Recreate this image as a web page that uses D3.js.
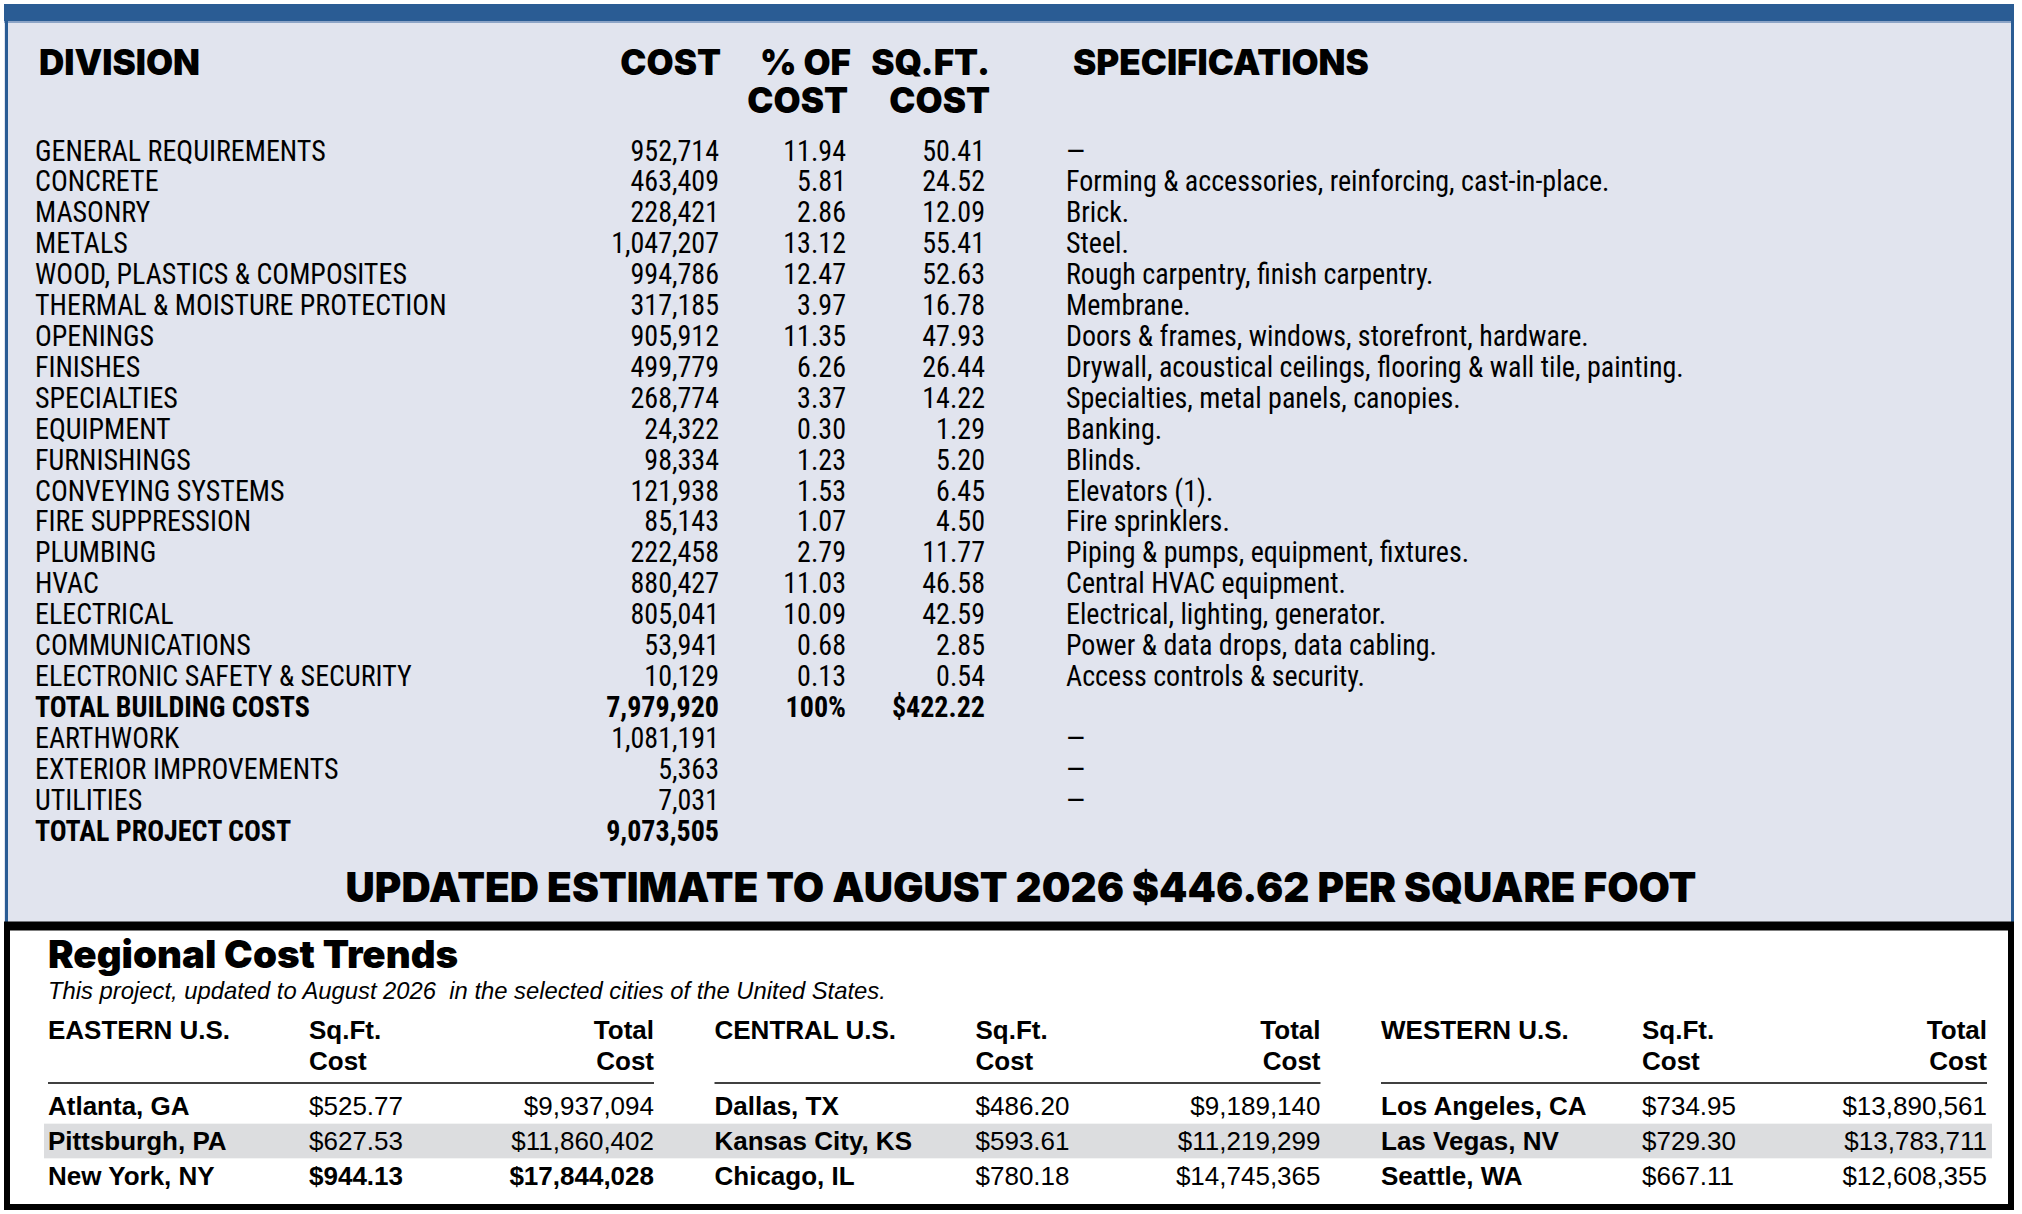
<!DOCTYPE html>
<html>
<head>
<meta charset="utf-8">
<script src="https://cdn.jsdelivr.net/npm/d3@7"></script>
<style>
  html, body { margin: 0; padding: 0; background: #ffffff; }
  svg { display: block; }
  .narrow { font-family: "Liberation Sans Narrow", "Roboto Condensed", "DejaVu Sans Condensed", sans-serif; }
  .heavy { font-family: Inter, "Liberation Sans", sans-serif; font-weight: 900; }
  .sans { font-family: "Liberation Sans", Arial, sans-serif; }
</style>
</head>
<body>
<div id="chart"></div>
<script>
// cost breakdown table
const divisions = [
  "GENERAL REQUIREMENTS", "CONCRETE", "MASONRY", "METALS", "WOOD, PLASTICS & COMPOSITES",
  "THERMAL & MOISTURE PROTECTION", "OPENINGS", "FINISHES", "SPECIALTIES", "EQUIPMENT",
  "FURNISHINGS", "CONVEYING SYSTEMS", "FIRE SUPPRESSION", "PLUMBING", "HVAC", "ELECTRICAL",
  "COMMUNICATIONS", "ELECTRONIC SAFETY & SECURITY", "TOTAL BUILDING COSTS", "EARTHWORK",
  "EXTERIOR IMPROVEMENTS", "UTILITIES", "TOTAL PROJECT COST"
];
const costs = [
  952714, 463409, 228421, 1047207, 994786, 317185, 905912, 499779, 268774, 24322,
  98334, 121938, 85143, 222458, 880427, 805041, 53941, 10129, 7979920, 1081191,
  5363, 7031, 9073505
];
const pctOfCost = [
  "11.94", "5.81", "2.86", "13.12", "12.47", "3.97", "11.35", "6.26", "3.37", "0.30",
  "1.23", "1.53", "1.07", "2.79", "11.03", "10.09", "0.68", "0.13", "100%", "", "", "", ""
];
const sqftCost = [
  "50.41", "24.52", "12.09", "55.41", "52.63", "16.78", "47.93", "26.44", "14.22", "1.29",
  "5.20", "6.45", "4.50", "11.77", "46.58", "42.59", "2.85", "0.54", "$422.22", "", "", "", ""
];
const specs = [
  "—", "Forming & accessories, reinforcing, cast-in-place.", "Brick.", "Steel.",
  "Rough carpentry, finish carpentry.", "Membrane.", "Doors & frames, windows, storefront, hardware.",
  "Drywall, acoustical ceilings, flooring & wall tile, painting.", "Specialties, metal panels, canopies.",
  "Banking.", "Blinds.", "Elevators (1).", "Fire sprinklers.", "Piping & pumps, equipment, fixtures.",
  "Central HVAC equipment.", "Electrical, lighting, generator.", "Power & data drops, data cabling.",
  "Access controls & security.", "", "—", "—", "—", ""
];
const totalRows = ["TOTAL BUILDING COSTS", "TOTAL PROJECT COST"];
const updatedLine = "UPDATED ESTIMATE TO AUGUST 2026 $446.62 PER SQUARE FOOT";

// regional cost trends
const regions = ["EASTERN U.S.", "CENTRAL U.S.", "WESTERN U.S."];
const cities = [
  ["Atlanta, GA", "Pittsburgh, PA", "New York, NY"],
  ["Dallas, TX", "Kansas City, KS", "Chicago, IL"],
  ["Los Angeles, CA", "Las Vegas, NV", "Seattle, WA"]
];
const citySqft = [
  [525.77, 627.53, 944.13],
  [486.20, 593.61, 780.18],
  [734.95, 729.30, 667.11]
];
const cityTotal = [
  [9937094, 11860402, 17844028],
  [9189140, 11219299, 14745365],
  [13890561, 13783711, 12608355]
];
const highlighted = ["New York, NY"];

const W = 2022, H = 1214;
const blue = "#2a5c94", panel = "#e1e4ee";

const svg = d3.select("#chart").append("svg")
  .attr("width", W)
  .attr("height", H)
  .attr("viewBox", `0 0 ${W} ${H}`);

// frame + panels
svg.append("rect").attr("x", 4).attr("y", 4).attr("width", 2010).attr("height", 922)
  .attr("fill", panel);
svg.append("rect").attr("x", 4).attr("y", 4).attr("width", 2010).attr("height", 17)
  .attr("fill", blue);
svg.append("line").attr("x1", 4).attr("x2", 2014).attr("y1", 22).attr("y2", 22)
  .attr("stroke", "#6f8fb8").attr("stroke-width", 1.5);
svg.append("line").attr("x1", 6.5).attr("x2", 6.5).attr("y1", 4).attr("y2", 926)
  .attr("stroke", blue).attr("stroke-width", 3);
svg.append("line").attr("x1", 2012.5).attr("x2", 2012.5).attr("y1", 4).attr("y2", 926)
  .attr("stroke", blue).attr("stroke-width", 3);

// scales for the top table
const rowY = d3.scalePoint().domain(d3.range(divisions.length)).range([150, 830]);
const col = { label: 35, cost: 719, pct: 846, sqft: 985, spec: 1066 };
const fmt = d3.format(",");
const squeeze = 0.95; // condensed face look

const table = svg.append("g");

// column headers
const headers = [
  { t: "DIVISION", x: 39, y: 75, a: "start" },
  { t: "COST", x: 721, y: 75, a: "end" },
  { t: "% OF", x: 851, y: 75, a: "end" },
  { t: "COST", x: 848, y: 113, a: "end" },
  { t: "SQ.FT.", x: 990, y: 75, a: "end" },
  { t: "COST", x: 990, y: 113, a: "end" },
  { t: "SPECIFICATIONS", x: 1073, y: 75, a: "start" }
];
table.selectAll("text.hdr").data(headers).enter().append("text")
  .attr("class", "hdr heavy")
  .attr("x", d => d.x).attr("y", d => d.y)
  .attr("text-anchor", d => d.a)
  .attr("font-size", 35)
  .attr("fill", "#000")
  .text(d => d.t);

const rows = table.selectAll("g.row").data(divisions).enter().append("g")
  .attr("class", "row narrow")
  .attr("transform", (d, i) => `translate(0,${rowY(i) + 10.5})`)
  .attr("font-size", 29.5)
  .attr("font-weight", d => totalRows.includes(d) ? "bold" : "normal")
  .attr("fill", "#000");

function cell(sel, x, anchor, fn, weight) {
  const t = sel.append("text")
    .attr("transform", `translate(${x},0) scale(${squeeze},1)`)
    .attr("text-anchor", anchor)
    .text(fn);
  if (weight) t.attr("font-weight", weight);
  return t;
}
cell(rows, col.label, "start", d => d);
cell(rows, col.cost, "end", (d, i) => fmt(costs[i]));
cell(rows, col.pct, "end", (d, i) => pctOfCost[i]);
cell(rows, col.sqft, "end", (d, i) => sqftCost[i]);
cell(rows, col.spec, "start", (d, i) => specs[i], "normal");

table.append("text")
  .attr("class", "heavy")
  .attr("x", 1021).attr("y", 902)
  .attr("text-anchor", "middle")
  .attr("font-size", 40.5)
  .attr("fill", "#000")
  .text(updatedLine);

// regional box
const box = svg.append("g");
box.append("rect").attr("x", 7).attr("y", 926).attr("width", 2004).attr("height", 281)
  .attr("fill", "#fff").attr("stroke", "#000").attr("stroke-width", 6);
box.append("line").attr("x1", 4).attr("x2", 2014).attr("y1", 926).attr("y2", 926)
  .attr("stroke", "#000").attr("stroke-width", 9);

box.append("text").attr("class", "heavy").attr("x", 48).attr("y", 968)
  .attr("font-size", 38.5).attr("font-weight", 800).text("Regional Cost Trends");
box.append("text").attr("class", "sans").attr("x", 48).attr("y", 999)
  .attr("font-size", 23.8).attr("font-style", "italic")
  .attr("xml:space", "preserve")
  .text("This project, updated to August 2026  in the selected cities of the United States.");

const regionX = d3.scalePoint().domain(regions).range([48, 1381]);
const cityRow = d3.scaleBand().domain([0, 1, 2]).range([1089, 1193]);
const money = d3.format("$,.2f");
const moneyInt = d3.format("$,");

// alternate row shading across all regions
box.append("rect")
  .attr("x", 44).attr("width", 1948)
  .attr("y", cityRow(1)).attr("height", cityRow.bandwidth())
  .attr("fill", "#dcdddf");

const groups = box.selectAll("g.region").data(regions).enter().append("g")
  .attr("class", "region sans")
  .attr("transform", d => `translate(${regionX(d)},0)`)
  .attr("font-size", 26);

groups.append("text").attr("y", 1039).attr("font-weight", "bold").text(d => d);
groups.append("text").attr("x", 261).attr("y", 1039).attr("font-weight", "bold").text("Sq.Ft.");
groups.append("text").attr("x", 261).attr("y", 1070).attr("font-weight", "bold").text("Cost");
groups.append("text").attr("x", 606).attr("y", 1039).attr("font-weight", "bold").attr("text-anchor", "end").text("Total");
groups.append("text").attr("x", 606).attr("y", 1070).attr("font-weight", "bold").attr("text-anchor", "end").text("Cost");
groups.append("line").attr("x1", 0).attr("x2", 606).attr("y1", 1083).attr("y2", 1083)
  .attr("stroke", "#000").attr("stroke-width", 1.5);

groups.each(function(region, ri) {
  const g = d3.select(this);
  const r = g.selectAll("g.city").data(cities[ri]).enter().append("g")
    .attr("transform", (d, i) => `translate(0,${cityRow(i) + cityRow.bandwidth() / 2 + 9})`);
  r.append("text").attr("font-weight", "bold").text(d => d);
  r.append("text").attr("x", 261)
    .attr("font-weight", d => highlighted.includes(d) ? "bold" : "normal")
    .text((d, i) => money(citySqft[ri][i]));
  r.append("text").attr("x", 606).attr("text-anchor", "end")
    .attr("font-weight", d => highlighted.includes(d) ? "bold" : "normal")
    .text((d, i) => moneyInt(cityTotal[ri][i]));
});
</script>
</body>
</html>
